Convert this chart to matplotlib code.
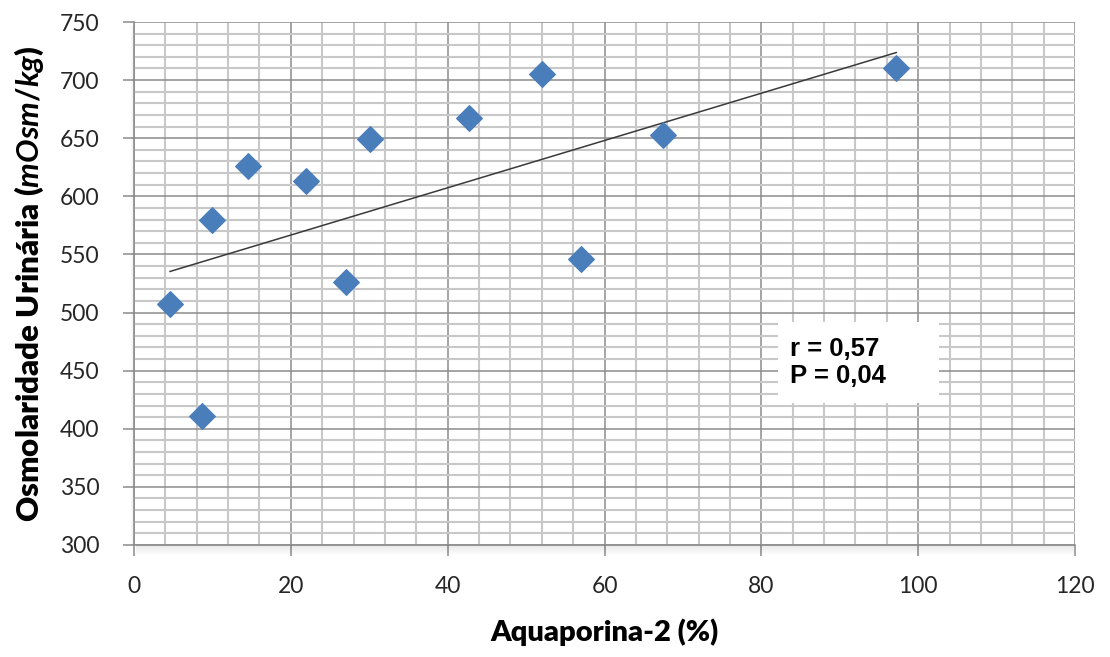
import numpy as np
import matplotlib.pyplot as plt
from matplotlib.patches import Rectangle
from matplotlib.ticker import MultipleLocator

plt.rcParams["font.family"] = ["Lato", "DejaVu Sans"]
plt.rcParams["mathtext.fontset"] = "custom"
plt.rcParams["mathtext.it"] = "Lato:bold:italic"
plt.rcParams["mathtext.rm"] = "Lato:bold"

# values
aquaporina = [4.6, 8.7, 9.9, 14.5, 21.9, 27.0, 30.1, 42.7, 52.0, 57.0, 67.5, 97.2]
osmolaridade = [507, 411, 580, 626, 613, 526, 649, 667, 705, 546, 653, 710]
stats_text = "r = 0,57\nP = 0,04"

fig = plt.figure(figsize=(11.1, 6.57), dpi=100)
ax = fig.add_axes([0.1207, 0.1705, 0.8478, 0.7960])

# shadow below / left of the plot area (Excel style)
for i in range(10):
    a = 0.09 * (1 - i / 10)
    fig.patches.append(Rectangle((0.1225, 0.1705 - (i + 1) / 657), 0.845, 1 / 657,
                                 transform=fig.transFigure, color="black", alpha=a, lw=0))
for i in range(4):
    a = 0.05 * (1 - i / 4)
    fig.patches.append(Rectangle((0.1207 - (i + 1) / 1110, 0.1705), 1 / 1110, 0.79,
                                 transform=fig.transFigure, color="black", alpha=a, lw=0))

ax.set_xlim(0, 120)
ax.set_ylim(300, 750)
ax.xaxis.set_major_locator(MultipleLocator(20))
ax.xaxis.set_minor_locator(MultipleLocator(4))
ax.yaxis.set_major_locator(MultipleLocator(50))
ax.yaxis.set_minor_locator(MultipleLocator(10))
ax.grid(which="minor", color="#c8c8c8", lw=1.5, zorder=0)
ax.grid(which="major", color="#8c8c8c", lw=1.1, zorder=0)
ax.set_axisbelow(True)

for s in ["top", "right"]:
    ax.spines[s].set_visible(False)
for s in ["left", "bottom"]:
    ax.spines[s].set_color("#8c8c8c")
    ax.spines[s].set_linewidth(1.1)

ax.tick_params(which="major", length=8, width=1.1, color="#8c8c8c", labelsize=16.5, labelcolor="#262626")
ax.tick_params(axis="y", which="major", pad=17)
ax.tick_params(axis="x", which="major", pad=14)
ax.tick_params(which="minor", length=0)

ax.scatter(aquaporina, osmolaridade, marker="D", s=13 ** 2, color="#4a7ebb", edgecolor="#4a7ebb", zorder=3)

# linear trendline
coef = np.polyfit(aquaporina, osmolaridade, 1)
xt = np.array([min(aquaporina), max(aquaporina)])
ax.plot(xt, np.polyval(coef, xt), color="#3a3a3a", lw=1.1, zorder=2)

ax.add_patch(Rectangle((0.684, 0.2715), 0.171, 0.155, transform=ax.transAxes,
                       facecolor="white", edgecolor="none", zorder=4))
ax.text(0.697, 0.349, stats_text, transform=ax.transAxes, va="center", ha="left",
        fontsize=18.5, fontweight="bold", family="Liberation Sans", linespacing=1.2, zorder=5)

ax.set_xlabel("Aquaporina-2 (%)", fontsize=21, fontweight="heavy", labelpad=16)
ax.set_ylabel(r"Osmolaridade Urinária ($\mathit{mOsm/kg}$)", fontsize=22.5, fontweight="heavy", labelpad=10)

fig.savefig("out.png", dpi=100)
